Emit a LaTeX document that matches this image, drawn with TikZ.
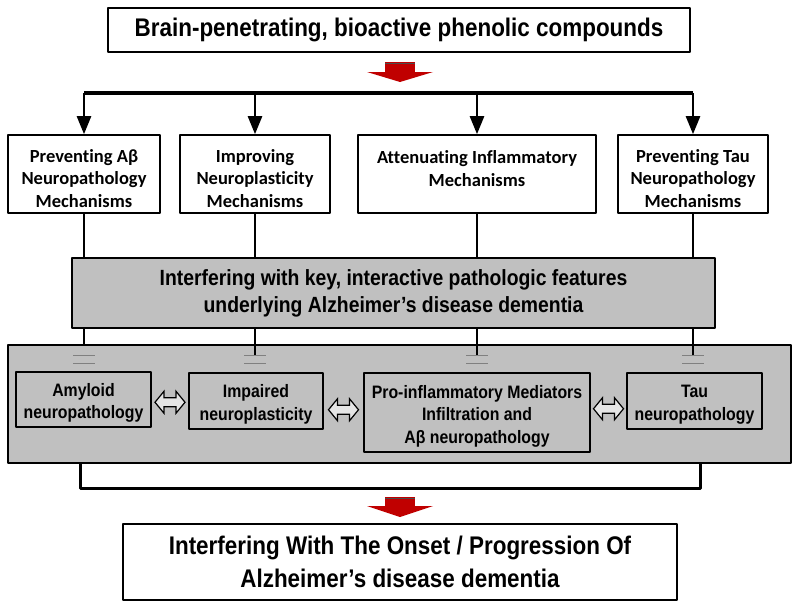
\documentclass[tikz,border=0pt]{standalone}
\usepackage{fontspec}
\setmainfont{Liberation Sans}[FakeStretch=0.88]
\newfontfamily\calfont{Carlito}[RawFeature={-liga;-clig;-dlig;-calt}]
\usetikzlibrary{arrows.meta,calc}
\definecolor{boxgray}{HTML}{C0C0C0}
\definecolor{arrred}{HTML}{C00000}
\newcommand{\lift}[1]{\rule{0pt}{#1}}
\tikzset{
  whitebox/.style={draw,line width=1.6pt,fill=white,align=center,inner sep=0pt,font=\bfseries},
  graybox/.style={draw,line width=1.3pt,fill=boxgray,align=center,inner sep=0pt,font=\bfseries},
  dblarrow/.style={draw,line width=1.2pt,fill=gray!20,line join=miter},
  ground/.style={gray,line width=0.8pt}
}
\begin{document}
\begin{tikzpicture}[x=1pt,y=-1pt,line join=round,>={Triangle[length=18pt,width=14pt]}]
\useasboundingbox (0,0) rectangle (800,610);
% top
\node[whitebox,minimum width=582pt,minimum height=44pt,font=\bfseries\fontsize{25.5}{28}\selectfont] (src) at (399,30)
  {Brain-penetrating, bioactive phenolic compounds};
\fill[arrred] (385,62) rectangle (415,72);
\fill[arrred] (367,72) -- (433,72) -- (400,82) -- cycle;
\draw[black!70,line width=0.8pt] (385,63) -- (415,63);
% four mechanisms
\begin{scope}[every node/.style={whitebox,minimum height=78pt,font=\calfont\bfseries\fontsize{18.5}{22.5}\selectfont}]
  \node[minimum width=152pt] (pab) at (84,174) {\lift{22pt}Preventing Aβ\\Neuropathology\\Mechanisms};
  \node[minimum width=150pt] (pla) at (255,174) {\lift{22pt}Improving\\Neuroplasticity\\Mechanisms};
  \node[minimum width=238pt] (inf) at (477,174) {Attenuating Inflammatory\\Mechanisms\\[-12pt]\mbox{}};
  \node[minimum width=150pt] (tau) at (693,174) {\lift{22pt}Preventing Tau\\Neuropathology\\Mechanisms};
\end{scope}
\coordinate (bar) at (0,93);
\draw[line width=4pt] (pab.north |- bar) -- (tau.north |- bar);
\foreach \b in {pab,pla,inf,tau}
  \draw[->,line width=2.5pt] (\b.north |- bar) -- (\b.north);
% big gray box
\node[graybox,minimum width=783pt,minimum height=118pt] (feat) at (399.5,404) {};
\foreach \b in {pab,pla,inf,tau}
  \draw[line width=2.5pt] (\b.south) -- (\b.south |- feat.north);
\node[graybox,minimum width=643pt,minimum height=70pt,font=\bfseries\fontsize{22}{27}\selectfont] (key) at (393.5,293)
  {Interfering with key, interactive pathologic features\\underlying Alzheimer’s disease dementia};
% ground marks
\foreach \x in {84,255,477,693} {
  \draw[ground] (\x-11,355) -- (\x+11,355);
  \draw[ground] (\x-11,363) -- (\x+11,363);
}
\foreach \x in {255,477,693}
  \draw[line width=2.5pt] (\x,345) -- (\x,355);
% features
\begin{scope}[every node/.style={graybox,line width=1.5pt,font=\bfseries\fontsize{18}{22.5}\selectfont}]
  \node[minimum width=135pt,minimum height=55pt] (amy) at (83.5,399.5) {\lift{20pt}Amyloid\\neuropathology};
  \node[minimum width=134pt,minimum height=56pt] (imp) at (256,401) {\lift{20pt}Impaired\\neuroplasticity};
  \node[minimum width=226pt,minimum height=79pt] (pro) at (477,412.5)
    {\lift{20pt}Pro-inflammatory Mediators\\Infiltration and\\Aβ neuropathology};
  \node[minimum width=135pt,minimum height=56pt] (tpa) at (694.5,401) {\lift{20pt}Tau\\neuropathology};
\end{scope}
% two-way arrows between the features
\coordinate (d1) at ($(amy.east)!0.5!(imp.west)+(0,2)$);
\coordinate (d2) at ($(imp.east)!0.5!(pro.west)+(0,3)$);
\coordinate (d3) at ($(pro.east)!0.5!(tpa.west)+(0,2)$);
\foreach \d in {d1,d2,d3}
  \draw[dblarrow] ($(\d)+(-15,0)$) -- ++(9,-11) -- ++(0,6.5) -- ++(12,0) -- ++(0,-6.5) -- ++(9,11)
    -- ++(-9,11) -- ++(0,-6.5) -- ++(-12,0) -- ++(0,6.5) -- cycle;
% bottom
\coordinate (lowbar) at (0,488);
\draw[line width=3pt] (feat.south -| 80,0) -- (80,488) -- (700,488) -- (feat.south -| 700,0);
\fill[arrred] (385,497) rectangle (415,506);
\fill[arrred] (367,506) -- (433,506) -- (400,517) -- cycle;
\draw[black!70,line width=0.8pt] (385,498) -- (415,498);
\node[whitebox,minimum width=554pt,minimum height=76pt,font=\bfseries\fontsize{25.5}{33}\selectfont] (out) at (400,562)
  {Interfering With The Onset / Progression Of\\Alzheimer’s disease dementia};
\end{tikzpicture}
\end{document}
